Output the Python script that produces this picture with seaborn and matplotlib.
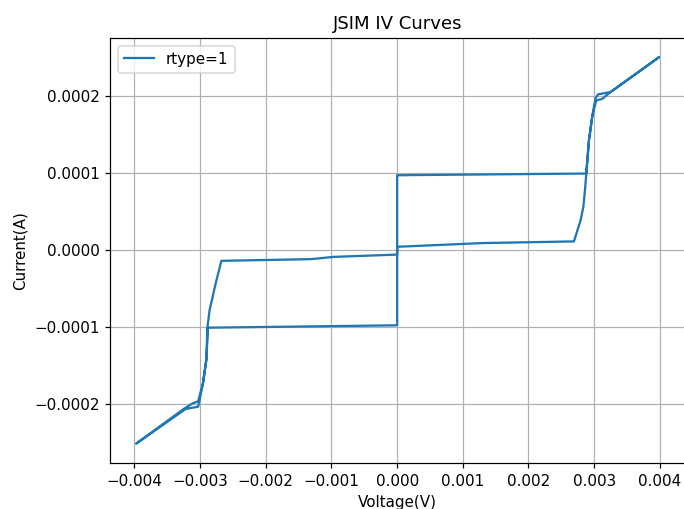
import matplotlib
matplotlib.use("Agg")
import matplotlib.pyplot as plt
import seaborn as sns
import pandas as pd

# Junction voltage (V) and current (A) along one full current sweep
voltage = [
    0.0, 0.0,
    0.00288, 0.00292, 0.00297, 0.00302, 0.00306, 0.00325, 0.003985,
    0.00325, 0.00312, 0.00303, 0.00297, 0.00292, 0.00288,
    0.00286, 0.002835, 0.002794, 0.002692,
    0.00129, 0.0,
    0.0,
    -0.00288, -0.002905, -0.002957, -0.00302, -0.00303, -0.00322, -0.003974,
    -0.00325, -0.00312, -0.00303, -0.002957, -0.002905, -0.00289,
    -0.002855, -0.002763, -0.002676,
    -0.00131, -0.00097, 0.0,
    0.0,
]
current = [
    0.0, 0.0000971,
    0.0000993, 0.000142, 0.000173, 0.000197, 0.000202, 0.000205, 0.00025,
    0.000205, 0.000196, 0.000194, 0.000173, 0.000142, 0.0000993,
    0.0000777, 0.000056, 0.0000388, 0.0000113,
    0.0000091, 0.0000043,
    -0.0000975,
    -0.0001006, -0.000142, -0.000173, -0.000199, -0.000203, -0.000206, -0.000251,
    -0.000206, -0.000199, -0.000196, -0.000173, -0.000142, -0.000101,
    -0.0000777, -0.0000431, -0.0000139,
    -0.0000117, -0.0000088, -0.0000058,
    0.0,
]

df = pd.DataFrame({"Voltage(V)": voltage, "Current(A)": current})

DPI = 109
W, H = 684, 509
fig = plt.figure(figsize=(W / DPI, H / DPI), dpi=DPI)
ax = fig.add_axes([110 / W, 46 / H, 575 / W, 425 / H])

sns.lineplot(data=df, x="Voltage(V)", y="Current(A)", sort=False,
             estimator=None, color="#1f77b4", linewidth=1.5,
             label="rtype=1", ax=ax)

ax.grid(True, color="#b0b0b0", linewidth=0.8)
ax.set_axisbelow(True)
ax.set_title("JSIM IV Curves", fontsize=12)
ax.set_xlabel("Voltage(V)", fontsize=10)
ax.set_ylabel("Current(A)", fontsize=10)
ax.legend(loc="upper left", fontsize=10)

fig.savefig("out.png", dpi=DPI)
